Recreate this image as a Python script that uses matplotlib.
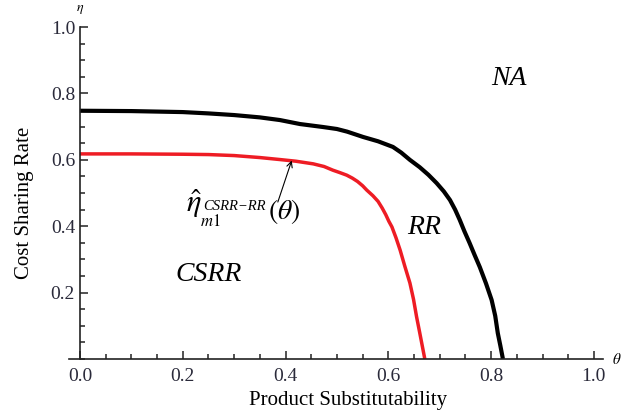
import matplotlib
matplotlib.use("Agg")
import matplotlib.pyplot as plt
from matplotlib.ticker import MultipleLocator

plt.rcParams['font.family'] = ['Liberation Serif', 'DejaVu Serif']
plt.rcParams['mathtext.fontset'] = 'stix'

# RR / NA boundary (black)
theta_rr = [0, 0.1, 0.2, 0.25, 0.3, 0.35, 0.389, 0.428, 0.473, 0.5, 0.52, 0.551,
            0.58, 0.609, 0.625, 0.642, 0.661, 0.678, 0.694, 0.708, 0.72, 0.73,
            0.739, 0.748, 0.758, 0.768, 0.778, 0.79, 0.801, 0.808, 0.813, 0.818, 0.823]
eta_rr = [0.748, 0.747, 0.744, 0.740, 0.735, 0.728, 0.720, 0.708, 0.699, 0.693, 0.685, 0.669,
          0.656, 0.639, 0.622, 0.600, 0.578, 0.555, 0.530, 0.505, 0.479, 0.450,
          0.419, 0.385, 0.350, 0.313, 0.277, 0.228, 0.178, 0.130, 0.078, 0.040, 0.0]

# CSRR / RR boundary (red)
theta_csrr = [0, 0.1, 0.2, 0.25, 0.3, 0.35, 0.389, 0.42, 0.454, 0.475, 0.492, 0.505,
              0.519, 0.53, 0.54, 0.55, 0.558, 0.57, 0.58, 0.588, 0.595, 0.601, 0.607,
              0.615, 0.623, 0.632, 0.642, 0.649, 0.655, 0.661, 0.666, 0.671]
eta_csrr = [0.618, 0.618, 0.617, 0.616, 0.613, 0.607, 0.601, 0.596, 0.588, 0.580, 0.569, 0.562,
            0.554, 0.545, 0.535, 0.522, 0.509, 0.492, 0.475, 0.455, 0.435, 0.415, 0.398,
            0.365, 0.328, 0.280, 0.229, 0.180, 0.127, 0.080, 0.040, 0.0]

x_ticks = [0.0, 0.2, 0.4, 0.6, 0.8, 1.0]
y_ticks = [0.2, 0.4, 0.6, 0.8, 1.0]

fig = plt.figure(figsize=(6.26, 4.17), dpi=100)
ax = fig.add_axes([0.1105, 0.139, 0.853, 0.796])

ax.plot(theta_rr, eta_rr, color='black', lw=3.0, solid_capstyle='butt', solid_joinstyle='round')
ax.plot(theta_csrr, eta_csrr, color='#ee1c24', lw=2.5, solid_capstyle='butt', solid_joinstyle='round')

ax.set_xlim(-0.021, 1.018)
ax.set_ylim(0, 1.0)

for s in ['top', 'right']:
    ax.spines[s].set_visible(False)
ax.spines['left'].set_position(('data', 0))
for s in ['left', 'bottom']:
    ax.spines[s].set_linewidth(1.2)
    ax.spines[s].set_color('#222222')

ax.set_xticks(x_ticks)
ax.set_xticklabels([f"{v:.1f}" for v in x_ticks])
ax.set_yticks(y_ticks)
ax.set_yticklabels([f"{v:.1f}" for v in y_ticks])
ax.xaxis.set_minor_locator(MultipleLocator(0.05))
ax.yaxis.set_minor_locator(MultipleLocator(0.05))
ax.tick_params(which='both', direction='in', color='#222222', width=1.1)
ax.tick_params(which='major', length=6)
ax.tick_params(which='minor', length=3.5)
ax.tick_params(axis='x', which='major', labelsize=14, pad=6.5, labelcolor='#2a2a3a')
ax.tick_params(axis='y', which='major', labelsize=14, pad=3.5, labelcolor='#2a2a3a')

ax.set_xlabel('Product Substitutability', fontsize=15)
ax.xaxis.set_label_coords(0.522, -0.097)
ax.set_ylabel('Cost Sharing Rate', fontsize=15)
ax.yaxis.set_label_coords(-0.066, 0.47)

ax.text(1.045, 0.0, r'$\theta$', fontsize=11, ha='center', va='center', clip_on=False)
ax.text(0.0, 1.052, r'$\eta$', fontsize=10, ha='center', va='center', clip_on=False)

ax.text(0.835, 0.845, 'NA', fontsize=20, style='italic', ha='center', va='center')
ax.text(0.67, 0.395, 'RR', fontsize=20, style='italic', ha='center', va='center')
ax.text(0.25, 0.255, 'CSRR', fontsize=20, style='italic', ha='center', va='center')

# annotation label for the red boundary: eta-hat with sub/superscripts
ax.text(0.206, 0.443, r'$\hat{\eta}$', fontsize=22, ha='left', va='baseline')
ax.text(0.234, 0.400, r'$m1$', fontsize=12, ha='left', va='baseline')
ax.text(0.240, 0.448, 'CSRR\u2212RR', fontsize=10.5, style='italic', ha='left', va='baseline')
ax.text(0.365, 0.422, r'$(\theta)$', fontsize=20, ha='left', va='baseline')
ax.annotate('', xy=(0.412, 0.598), xytext=(0.385, 0.473),
            arrowprops=dict(arrowstyle='->', lw=0.8, color='black', shrinkA=0, shrinkB=0))

fig.savefig('out.png', dpi=100)
